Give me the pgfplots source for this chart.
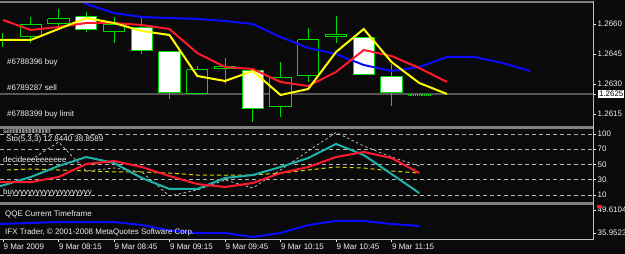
\documentclass[border=0pt]{standalone}
\usepackage{pgfplots}
\pgfplotsset{compat=1.18}
\usepackage{fontspec}
\setmainfont{Liberation Sans}
\definecolor{bg}{RGB}{10,10,10}
\definecolor{cgreen}{RGB}{0,220,0}
\definecolor{cred}{RGB}{255,25,45}
\definecolor{cyel}{RGB}{255,255,0}
\definecolor{cblue}{RGB}{10,10,255}
\definecolor{cteal}{RGB}{32,178,170}
\definecolor{sep}{RGB}{128,128,128}
\definecolor{bid}{RGB}{85,85,85}
\definecolor{lbl}{RGB}{240,240,240}
\pgfplotsset{
 panel/.style={scale only axis, width=593bp, anchor=north west,
   xmin=-0.108, xmax=21.261, clip=true,
   axis line style={draw=none}, xtick=\empty,
   ytick pos=right, yticklabel pos=right, tick align=outside,
   major tick length=3bp, tick style={lbl, line width=0.6bp},
   ticklabel style={font=\fontsize{8}{9}\selectfont, text=lbl},
   /pgf/number format/assume math mode=true, scaled y ticks=false,
   yticklabel style={anchor=west, inner sep=0pt, xshift=1.5bp}},
}
\tikzset{
 wick/.style={cgreen, line width=1bp},
 body/.style={draw=cgreen, line width=1bp, line join=miter, fill=#1},
 lab/.style={anchor=west, inner sep=0pt, text=lbl, font=\fontsize{8}{9}\selectfont},
}
\begin{document}
\begin{tikzpicture}
\path[use as bounding box] (0,0) rectangle (625bp,-254bp);
\fill[bg] (0,0) rectangle (625bp,-254bp);
% ---------------- main price panel
\begin{axis}[panel, at={(0bp,-2bp)}, height=125bp,
  ymin=1.26085, ymax=1.2671,
  ytick={1.2615,1.2630,1.2645,1.2660}, yticklabels={1.2615,1.2630,1.2645,1.2660},
  extra y ticks={1.2625}, extra y tick labels={1.2625},
  extra y tick style={yticklabel style={fill=white, text=black, inner sep=0.8bp, xshift=0.5bp}}]
\addplot[bid, line width=1.5bp] coordinates {(-1,1.2625) (22,1.2625)};
% wicks
\addplot[wick] coordinates {(0,1.26485) (0,1.26555)};
\addplot[wick] coordinates {(1,1.26505) (1,1.26635)};
\addplot[wick] coordinates {(2,1.2659) (2,1.26675)};
\addplot[wick] coordinates {(3,1.2656) (3,1.2666)};
\addplot[wick] coordinates {(4,1.26505) (4,1.26635)};
\addplot[wick] coordinates {(5,1.2645) (5,1.26635)};
\addplot[wick] coordinates {(6,1.26225) (6,1.2646)};
\addplot[wick] coordinates {(7,1.26245) (7,1.2639)};
\addplot[wick] coordinates {(8,1.263) (8,1.2643)};
\addplot[wick] coordinates {(9,1.2611) (9,1.2637)};
\addplot[wick] coordinates {(10,1.26135) (10,1.2641)};
\addplot[wick] coordinates {(11,1.2631) (11,1.2658)};
\addplot[wick] coordinates {(12,1.26505) (12,1.2664)};
\addplot[wick] coordinates {(13,1.26345) (13,1.26535)};
\addplot[wick] coordinates {(14,1.2619) (14,1.2640)};
% bodies
\addplot[body=bg] coordinates {(0.62,1.26595)(1.38,1.26595)(1.38,1.26535)(0.62,1.26535)(0.62,1.26595)};
\addplot[body=bg] coordinates {(1.62,1.26625)(2.38,1.26625)(2.38,1.2660)(1.62,1.2660)(1.62,1.26625)};
\addplot[body=white] coordinates {(2.62,1.26635)(3.38,1.26635)(3.38,1.2657)(2.62,1.2657)(2.62,1.26635)};
\addplot[body=bg] coordinates {(3.62,1.26595)(4.38,1.26595)(4.38,1.2656)(3.62,1.2656)(3.62,1.26595)};
\addplot[body=white] coordinates {(4.62,1.2658)(5.38,1.2658)(5.38,1.26465)(4.62,1.26465)(4.62,1.2658)};
\addplot[body=white] coordinates {(5.62,1.2646)(6.38,1.2646)(6.38,1.26255)(5.62,1.26255)(5.62,1.2646)};
\addplot[body=bg] coordinates {(6.62,1.2637)(7.38,1.2637)(7.38,1.2625)(6.62,1.2625)(6.62,1.2637)};
\addplot[body=bg] coordinates {(7.62,1.26385)(8.38,1.26385)(8.38,1.26375)(7.62,1.26375)(7.62,1.26385)};
\addplot[body=white] coordinates {(8.62,1.26365)(9.38,1.26365)(9.38,1.26175)(8.62,1.26175)(8.62,1.26365)};
\addplot[body=bg] coordinates {(9.62,1.2633)(10.38,1.2633)(10.38,1.26185)(9.62,1.26185)(9.62,1.2633)};
\addplot[body=bg] coordinates {(10.62,1.2652)(11.38,1.2652)(11.38,1.2634)(10.62,1.2634)(10.62,1.2652)};
\addplot[body=bg] coordinates {(11.62,1.26545)(12.38,1.26545)(12.38,1.26535)(11.62,1.26535)(11.62,1.26545)};
\addplot[body=white] coordinates {(12.62,1.2653)(13.38,1.2653)(13.38,1.26345)(12.62,1.26345)(12.62,1.2653)};
\addplot[body=white] coordinates {(13.62,1.26335)(14.38,1.26335)(14.38,1.26255)(13.62,1.26255)(13.62,1.26335)};
\addplot[cgreen, densely dotted, line width=1.2bp] coordinates {(14.6,1.26245) (15.4,1.26245)};
% moving averages
\addplot[cblue, line width=2bp] coordinates {(2,1.2677)(3,1.2670)(4,1.26655)(5,1.26635)(6,1.2663)(7,1.26625)(8,1.26615)(9,1.2660)(10,1.26535)(11,1.2648)(12,1.2645)(13,1.26395)(14,1.26365)(15,1.26385)(16,1.26435)(17,1.26435)(18,1.26405)(19,1.26365)};
\addplot[cred, line width=2bp] coordinates {(0,1.2662)(1,1.2657)(2,1.26585)(3,1.26605)(4,1.26605)(5,1.26595)(6,1.26575)(7,1.26455)(8,1.26385)(9,1.26375)(10,1.2631)(11,1.2629)(12,1.2636)(13,1.2647)(14,1.2644)(15,1.2638)(16,1.2631)};
\addplot[cyel, line width=2bp] coordinates {(-0.2,1.2652)(1,1.2652)(2,1.26575)(3,1.2663)(4,1.26605)(5,1.26565)(6,1.26545)(7,1.2634)(8,1.26315)(9,1.26365)(10,1.26245)(11,1.26275)(12,1.2646)(13,1.26575)(14,1.2641)(15,1.26305)(16,1.2625)};
\end{axis}
% ---------------- oscillator panel
\begin{axis}[panel, at={(0bp,-128bp)}, height=74bp,
  ymin=0.823, ymax=97.84,
  ytick={10,30,50,70,90}, yticklabels={10,30,50,70,100},
  ymajorgrids, grid style={lbl!75!black, dash pattern=on 4bp off 3bp, line width=0.7bp}]
\addplot[lbl!85!black, dash pattern=on 2.5bp off 2.5bp, line width=0.7bp] coordinates {(1,56)(2,79.5)(3,41.5)(4,45.4)(5,40.2)(6,8.7)(7,16.6)(8,29.7)(9,19.2)(10,42.8)(11,67.7)(12,92)(13,74.2)(14,59.8)(15,48.0)};
\addplot[cyel!85!black, dash pattern=on 4bp off 3bp, line width=1bp] coordinates {(0.15,42.8)(1,44.1)(2,42.8)(3,41.5)(4,40.2)(5,40.2)(6,38.8)(7,36.2)(8,36.2)(9,36.2)(10,38.8)(11,42.8)(12,46.7)(13,45.4)(14,41.5)(15,38.8)};
\addplot[cteal, line width=2bp] coordinates {(-0.2,20.5)(1,33.6)(2,48.0)(3,59.8)(4,52.0)(5,32.3)(6,17.9)(7,17.9)(8,32.3)(9,36.2)(10,46.7)(11,58.5)(12,76.9)(13,62.4)(14,37.5)(15,12.6)};
\addplot[cred, line width=2bp] coordinates {(-0.2,27.0)(1,27.0)(2,33.6)(3,50.6)(4,54.6)(5,46.7)(6,34.9)(7,24.4)(8,20.5)(9,25.7)(10,38.8)(11,46.7)(12,59.8)(13,66.4)(14,58.5)(15,38.8)};
\end{axis}
% ---------------- QQE panel
\begin{axis}[panel, at={(0bp,-204bp)}, height=35bp,
  ymin=32.39, ymax=53.17,
  ytick={35.9523,49.6104}, yticklabels={35.9523,49.6104},
  xtick={0,2,4,6,8,10,12,14}, xtick pos=lower, xticklabel pos=lower,
  xticklabels={9 Mar 2009,9 Mar 08:15,9 Mar 08:45,9 Mar 09:15,9 Mar 09:45,9 Mar 10:15,9 Mar 10:45,9 Mar 11:15},
  xticklabel style={anchor=north west, inner sep=0pt, xshift=0.5bp, yshift=-1.5bp}]
\addplot[cblue, line width=2bp] coordinates {(-0.2,41.30)(1,41.89)(2,42.48)(3,42.48)(4,42.48)(5,40.70)(6,37.5)(7,35.95)(8,35.95)(9,33.58)(10,35.95)(11,40.70)(12,43.08)(13,43.08)(14,41.30)(15,40.11)};
\end{axis}
% ---------------- texts
\node[lab] at (7bp,-62bp) {\#6788396 buy};
\node[lab] at (7bp,-88bp) {\#6789287 sell};
\node[lab] at (7bp,-114bp) {\#6788399 buy limit};
\node[lab, font=\fontsize{6.5}{7}\selectfont] at (3bp,-131bp) {sellllllllllllllllllllllllllll};
\node[lab] at (6bp,-139bp) {Sto(5,3,3) 12.8440 38.8589};
\node[lab] at (3bp,-160bp) {decideeeeeeeeee};
\node[lab] at (3bp,-192bp) {buyyyyyyyyyyyyyyyyyyyy};
\node[lab] at (5bp,-214bp) {QQE Current Timeframe};
\node[lab] at (5bp,-232bp) {IFX Trader, © 2001-2008 MetaQuotes Software Corp.};
% ---------------- frame
\fill[sep] (0,-1.2bp) rectangle (593bp,-3bp);
\fill[sep] (0,-125.5bp) rectangle (593bp,-128.5bp);
\fill[sep] (0,-201.5bp) rectangle (593bp,-204.5bp);
\draw[lbl!80!black, line width=1bp] (593bp,-1.2bp) -- (593bp,-239.5bp);
\draw[lbl!80!black, line width=1bp] (0,-239bp) -- (593.5bp,-239bp);
\fill[cred] (596.5bp,-205bp) rectangle (602bp,-208bp);
\end{tikzpicture}
\end{document}
